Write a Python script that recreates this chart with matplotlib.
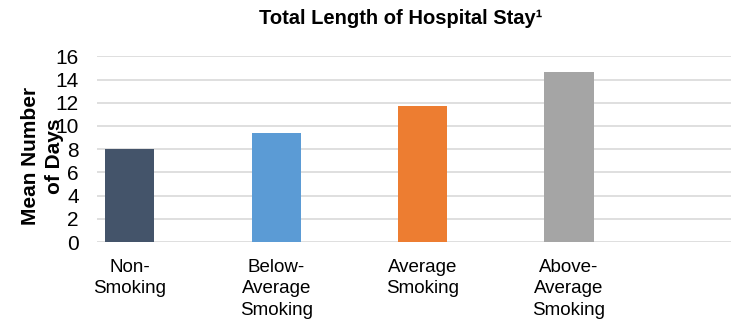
import matplotlib
matplotlib.use("Agg")
import matplotlib.pyplot as plt

# data
groups = ["Non-\nSmoking", "Below-\nAverage\nSmoking", "Average\nSmoking", "Above-\nAverage\nSmoking"]
mean_days = [8.0, 9.4, 11.7, 14.65]
bar_colors = ["#44546A", "#5B9BD5", "#ED7D31", "#A5A5A5"]
yticks = [0, 2, 4, 6, 8, 10, 12, 14, 16]

plt.rcParams["font.family"] = ["Liberation Sans", "DejaVu Sans"]

fig = plt.figure(figsize=(7.31, 3.30), dpi=100)
ax = fig.add_axes([97 / 731, 1 - 242 / 330, 1 - 97 / 731, (242 - 56.3) / 330])

x = list(range(len(groups)))
ax.bar(x, mean_days, width=0.335, color=bar_colors, zorder=3)

ax.set_ylim(0, 16)
ax.set_xlim(-0.225, 4.107)
ax.set_yticks(yticks)
ax.set_xticks(x)
ax.set_xticklabels(groups, fontsize=13.5, linespacing=1.35)
ax.tick_params(axis="y", length=0, pad=13, labelsize=15)
ax.tick_params(axis="x", length=0, pad=12)
ax.grid(axis="y", color="#d9d9d9", lw=1.2, zorder=0)
for s in ax.spines.values():
    s.set_visible(False)

fig.text(401 / 731, 1 - 9 / 330, "Total Length of Hospital Stay\u00b9", ha="center", va="top",
         fontsize=14.5, fontweight="bold")
# y label drawn as two centred lines, like the original
fig.text(31 / 731, 1 - 156 / 330, "Mean Number", rotation=90, ha="center", va="center",
         fontsize=15, fontweight="bold")
fig.text(55 / 731, 1 - 156 / 330, "of Days", rotation=90, ha="center", va="center",
         fontsize=15, fontweight="bold")

fig.savefig("out.png", dpi=100)
